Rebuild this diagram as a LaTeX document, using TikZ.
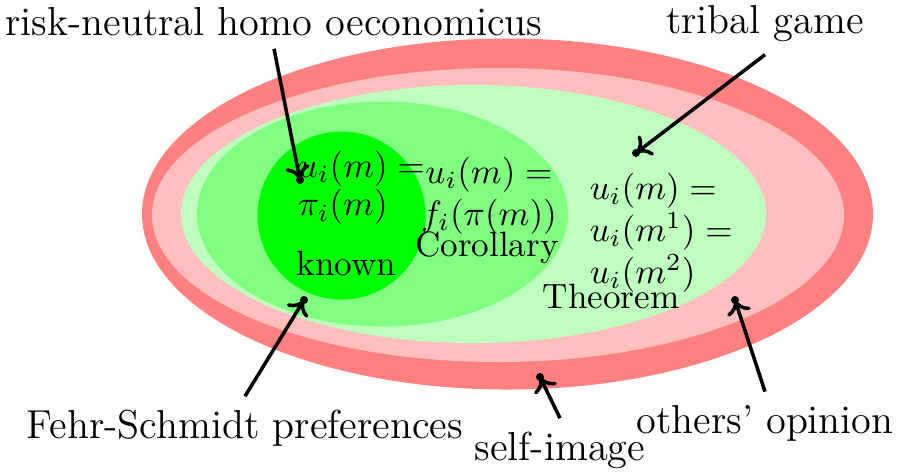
\documentclass[tikz,border=0pt]{standalone}
\usepackage{tikz}
\usetikzlibrary{arrows.meta}
\definecolor{ringred}{RGB}{255,128,128}
\definecolor{ringpink}{RGB}{255,191,191}
\definecolor{palegreen}{RGB}{191,255,191}
\definecolor{midgreen}{RGB}{128,255,128}
\definecolor{fullgreen}{RGB}{0,255,0}
\tikzset{
  every picture/.style={line width=1pt, font=\fontsize{11.5}{12}\selectfont},
  lbl/.style={inner sep=3.3pt, anchor=base},
  math/.style={inner sep=0pt, align=left, font=\fontsize{10}{11}\selectfont},
  tag/.style={inner sep=0pt, anchor=base west, font=\fontsize{10}{10}\selectfont},
  dot/.style={circle, fill=black, inner sep=0pt, minimum size=0.8mm},
  flow/.style={-{To[length=4pt,width=7pt]}, line width=1pt},
}

\begin{document}
\begin{tikzpicture}
  \useasboundingbox (-50mm,21.4mm) rectangle (39.9mm,-25.8mm);
  % nested sets, widest first
  \fill[ringred] (0.75mm,0) ellipse [x radius=36.55mm, y radius=17.55mm];
  \fill[ringpink] (-0.2mm,-0.1mm) ellipse [x radius=34.6mm, y radius=14.7mm];
  \fill[palegreen] (-2.65mm,0) ellipse [x radius=29.25mm, y radius=12.9mm];
  \fill[midgreen] (-11.75mm,0) ellipse [x radius=18.55mm, y radius=11.25mm];
  \fill[fullgreen] (-15.85mm,-0.15mm) circle (8.4mm);

  \node[math, anchor=north west] (eqone) at (-20.4mm,6.5mm) {$u_i(m) =$\\$\pi_i(m)$};
  \node[tag] (known) at (-20.5mm,-6.1mm) {known};
  \node[math, align=center, anchor=north, font=\fontsize{10}{12}\selectfont] (eqtwo) at (-1.1mm,5.9mm) {$u_i(m) =$\\$f_i(\pi(m))$};
  \node[tag, anchor=base] (cor) at (-1.3mm,-4.2mm) {Corollary};
  \node[math, anchor=north west, font=\fontsize{10}{12}\selectfont] (eqthree) at (8.8mm,4.3mm) {$u_i(m) =$\\$u_i(m^1) =$\\$u_i(m^2)$};
  \node[tag] (thm) at (4.1mm,-9.4mm) {Theorem};

  \node[dot] (dA) at (-20.0mm,3.4mm) {};
  \node[dot] (dB) at (13.6mm,6.1mm) {};
  \node[dot] (dC) at (-19.6mm,-8.6mm) {};
  \node[dot] (dD) at (4.0mm,-16.3mm) {};
  \node[dot] (dE) at (23.5mm,-8.6mm) {};

  \node[lbl] (lblrisk) at (-22.6mm,17.9mm) {risk-neutral homo oeconomicus};
  \node[lbl] (lbltribal) at (26.5mm,18.1mm) {tribal game};
  \node[lbl] (lblfehr) at (-25.5mm,-22.4mm) {Fehr-Schmidt preferences};
  \node[lbl] (lblself) at (6.0mm,-24.6mm) {self-image};
  \node[lbl] (lblothers) at (26.5mm,-21.9mm) {others' opinion};

  \draw[flow] (lblrisk.south) -- (dA.center);
  \draw[flow] (lbltribal.south) -- (dB.center);
  \draw[flow] (lblfehr.north) -- (dC.center);
  \draw[flow] (lblself.north) -- (dD.center);
  \draw[flow] (lblothers.north) -- (dE.center);
\end{tikzpicture}
\end{document}
